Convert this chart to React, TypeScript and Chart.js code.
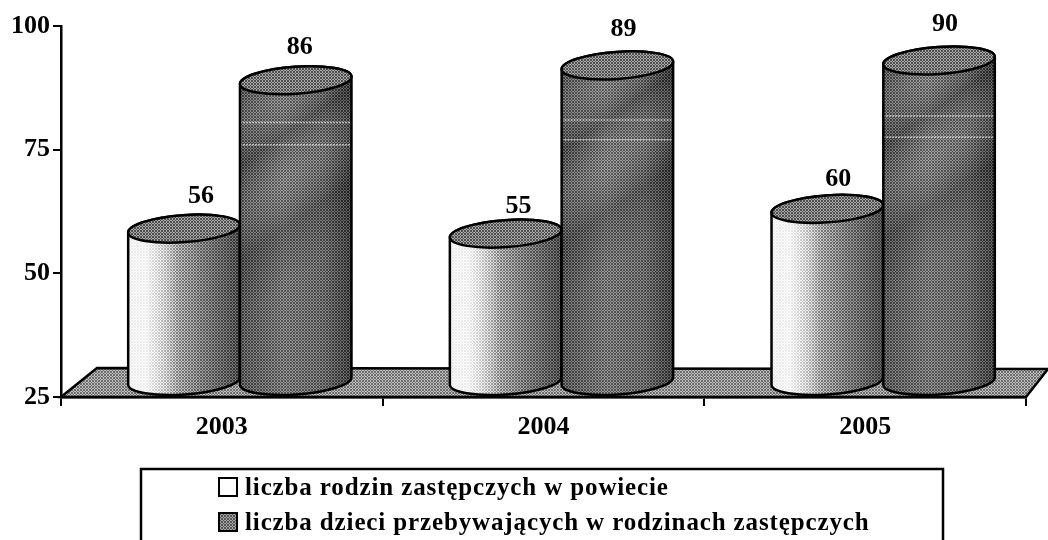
import React, { useEffect, useRef } from "react";
import { Chart, registerables } from "chart.js";

Chart.register(...registerables);

const years = ["2003", "2004", "2005"];
const seriesNames = [
  "liczba rodzin zastępczych w powiecie",
  "liczba dzieci przebywających w rodzinach zastępczych",
];
const families = [56, 55, 60];
const children = [86, 89, 90];
const yTicks = [25, 50, 75, 100];
// pale scan lines crossing the dark cylinders, in axis units per year
const paleLines = [[80.5, 76], [81, 77], [81.8, 77.5]];
// per-label nudges of the value captions
const captionDx = [[17, 4], [13, 6], [11, 6]];
const captionDy = [[-32, -33], [-27, -36], [-30, -36]];

const FONT = '"Liberation Serif", serif';
const DEPTH_X = 18;
const DEPTH_Y = -15;
const RY = 13.5;
const ROT = (-4 * Math.PI) / 180;

function checker(ctx: CanvasRenderingContext2D, dark: number, light: number) {
  const c = document.createElement("canvas");
  c.width = 3;
  c.height = 3;
  const g = c.getContext("2d")!;
  for (let i = 0; i < 3; i++)
    for (let j = 0; j < 3; j++) {
      const on = (i + j) % 2 === 0;
      g.fillStyle = on ? `rgba(0,0,0,${dark})` : `rgba(255,255,255,${light})`;
      g.fillRect(i, j, 1, 1);
    }
  return ctx.createPattern(c, "repeat")!;
}

function bodyPath(ctx: CanvasRenderingContext2D, cx: number, top: number, bottom: number, rx: number) {
  const dx = rx * Math.cos(ROT);
  const dy = rx * Math.sin(ROT);
  ctx.beginPath();
  ctx.moveTo(cx - dx, top - dy);
  ctx.lineTo(cx - dx, bottom - dy);
  ctx.ellipse(cx, bottom, rx, RY, ROT, Math.PI, 0, true);
  ctx.lineTo(cx + dx, top + dy);
  ctx.ellipse(cx, top, rx, RY, ROT, 0, Math.PI, true);
  ctx.closePath();
}

const scene = {
  id: "scene",
  beforeDatasetsDraw(chart: any) {
    const { ctx, chartArea: a } = chart;
    ctx.save();
    ctx.beginPath();
    ctx.moveTo(a.left, a.bottom);
    ctx.lineTo(a.left + 36, a.bottom - 29);
    ctx.lineTo(a.right + 22, a.bottom - 28);
    ctx.lineTo(a.right, a.bottom);
    ctx.closePath();
    ctx.fillStyle = "#a2a2a2";
    ctx.fill();
    ctx.fillStyle = checker(ctx, 0.32, 0.3);
    ctx.fill();
    ctx.strokeStyle = "#000";
    ctx.lineWidth = 2.5;
    ctx.stroke();
    ctx.restore();
  },
  afterDatasetsDraw(chart: any) {
    const { ctx } = chart;
    const yScale = chart.scales.y;
    const pattern = checker(ctx, 0.36, 0.18);
    years.forEach((_, i) => {
      [0, 1].forEach((d) => {
        const bar = chart.getDatasetMeta(d).data[i].getProps(["x", "y", "base", "width"], true);
        const cx = bar.x + DEPTH_X;
        const rx = bar.width / 2;
        const top = bar.y + DEPTH_Y;
        const bottom = bar.base + DEPTH_Y;
        ctx.save();
        bodyPath(ctx, cx, top, bottom, rx);
        const h = ctx.createLinearGradient(cx - rx, 0, cx + rx, 0);
        if (d === 0) {
          h.addColorStop(0, "#f4f4f4");
          h.addColorStop(0.15, "#ffffff");
          h.addColorStop(0.35, "#d6d6d6");
          h.addColorStop(0.65, "#909090");
          h.addColorStop(1, "#4c4c4c");
        } else {
          h.addColorStop(0, "#5c5c5c");
          h.addColorStop(0.4, "#848484");
          h.addColorStop(0.75, "#707070");
          h.addColorStop(1, "#3c3c3c");
        }
        ctx.fillStyle = h;
        ctx.fill();
        if (d === 1) {
          const s = ctx.createLinearGradient(cx - rx, top, cx + rx, top + 160);
          s.addColorStop(0, "rgba(0,0,0,0.22)");
          s.addColorStop(0.18, "rgba(255,255,255,0.1)");
          s.addColorStop(0.36, "rgba(0,0,0,0.22)");
          s.addColorStop(0.55, "rgba(255,255,255,0.1)");
          s.addColorStop(0.75, "rgba(0,0,0,0.2)");
          s.addColorStop(1, "rgba(0,0,0,0)");
          ctx.fillStyle = s;
          ctx.fill();
        }
        ctx.fillStyle = pattern;
        ctx.fill();
        if (d === 0) {
          const w = ctx.createLinearGradient(cx - rx, 0, cx + rx, 0);
          w.addColorStop(0, "rgba(255,255,255,0.8)");
          w.addColorStop(0.16, "rgba(255,255,255,0.8)");
          w.addColorStop(0.45, "rgba(255,255,255,0)");
          ctx.fillStyle = w;
          ctx.fill();
        }
        if (d === 1) {
          ctx.save();
          ctx.clip();
          ctx.strokeStyle = "rgba(232,232,232,0.7)";
          ctx.lineWidth = 1.5;
          ctx.setLineDash([2, 1]);
          paleLines[i].forEach((v) => {
            const py = yScale.getPixelForValue(v);
            ctx.beginPath();
            ctx.moveTo(cx - rx, py);
            ctx.lineTo(cx + rx, py);
            ctx.stroke();
          });
          ctx.restore();
        }
        bodyPath(ctx, cx, top, bottom, rx);
        ctx.strokeStyle = "#000";
        ctx.lineWidth = 2.5;
        ctx.stroke();
        ctx.beginPath();
        ctx.ellipse(cx, top, rx, RY, ROT, 0, Math.PI * 2);
        ctx.fillStyle = "#989898";
        ctx.fill();
        ctx.fillStyle = checker(ctx, 0.48, 0.16);
        ctx.fill();
        ctx.stroke();
        ctx.restore();
      });
    });
    // value captions
    ctx.save();
    ctx.font = `bold 26px ${FONT}`;
    ctx.fillStyle = "#000";
    ctx.textAlign = "center";
    ctx.textBaseline = "middle";
    chart.data.datasets.forEach((ds: any, d: number) => {
      ds.data.forEach((v: number, i: number) => {
        const bar = chart.getDatasetMeta(d).data[i].getProps(["x", "y"], true);
        ctx.fillText(String(v), bar.x + DEPTH_X + captionDx[i][d], bar.y + DEPTH_Y + captionDy[i][d]);
      });
    });
    ctx.restore();
    // legend box
    ctx.save();
    ctx.strokeStyle = "#000";
    ctx.lineWidth = 2.5;
    ctx.strokeRect(141, 469, 802, 90);
    ctx.font = `bold 25px ${FONT}`;
    ctx.letterSpacing = "0.87px";
    ctx.textBaseline = "alphabetic";
    ctx.fillStyle = "#000";
    const rows = [478, 513];
    seriesNames.forEach((name, d) => {
      const y = rows[d];
      ctx.fillStyle = d === 0 ? "#ffffff" : "#8f8f8f";
      ctx.fillRect(219, y, 18, 18);
      if (d === 1) {
        ctx.fillStyle = checker(ctx, 0.4, 0.2);
        ctx.fillRect(219, y, 18, 18);
      }
      ctx.lineWidth = 2;
      ctx.strokeRect(219, y, 18, 18);
      ctx.fillStyle = "#000";
      ctx.fillText(name, 245, y + 17);
    });
    ctx.restore();
  },
};

export default function App() {
  const ref = useRef<HTMLCanvasElement>(null);
  useEffect(() => {
    const chart = new Chart(ref.current!, {
      type: "bar",
      data: {
        labels: years,
        datasets: [
          { label: seriesNames[0], data: families, base: 25, backgroundColor: "rgba(0,0,0,0)" },
          { label: seriesNames[1], data: children, base: 25, backgroundColor: "rgba(0,0,0,0)" },
        ],
      },
      plugins: [scene],
      options: {
        responsive: false,
        animation: false,
        layout: { padding: { top: 26, right: 22, left: 0, bottom: 0 } },
        datasets: { bar: { categoryPercentage: 0.695, barPercentage: 1 } },
        plugins: { legend: { display: false }, tooltip: { enabled: false } },
        scales: {
          x: {
            afterFit: (s: any) => { s.height = 143; },
            border: { color: "#000", width: 2.5 },
            grid: { drawOnChartArea: false, color: "#000", lineWidth: 2, tickLength: 9, offset: true },
            ticks: { color: "#000", padding: 6, font: { family: FONT, size: 26, weight: "bold" } },
          },
          y: {
            min: 25,
            max: 100,
            afterFit: (s: any) => { s.width = 61; },
            afterBuildTicks: (s: any) => { s.ticks = yTicks.map((value) => ({ value })); },
            border: { color: "#000", width: 2.5 },
            grid: { drawOnChartArea: false, color: "#000", lineWidth: 2, tickLength: 8 },
            ticks: { color: "#000", padding: 3, font: { family: FONT, size: 26, weight: "bold" } },
          },
        },
      } as any,
    });
    return () => chart.destroy();
  }, []);
  return (
    <canvas
      ref={ref}
      width={1048}
      height={540}
      style={{ position: "absolute", left: 0, top: 0, display: "block", width: 1048, height: 540 }}
    />
  );
}
